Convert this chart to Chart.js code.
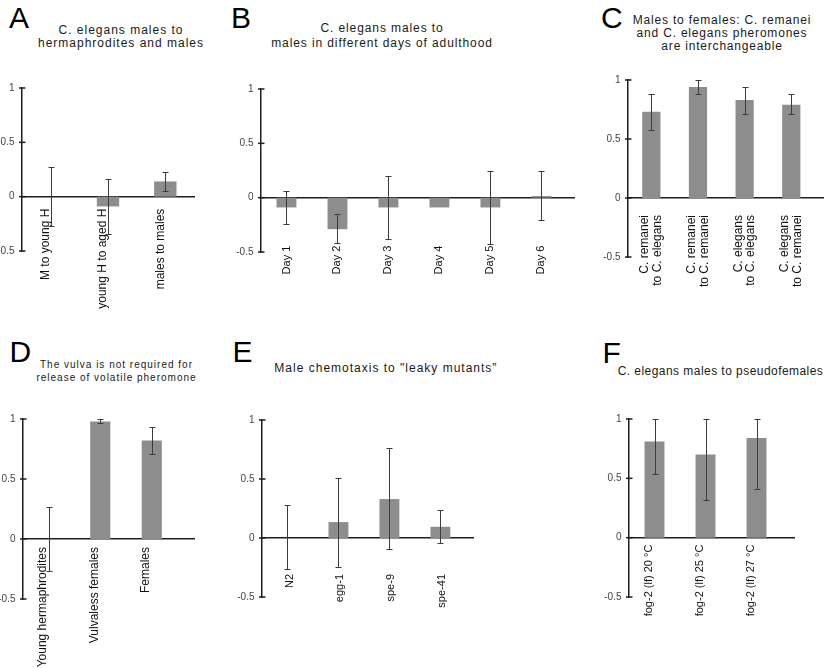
<!DOCTYPE html>
<html><head><meta charset="utf-8">
<script src="https://cdn.jsdelivr.net/npm/chart.js@4.4.1/dist/chart.umd.min.js"></script>
<style>
html,body{margin:0;padding:0;background:#fff;}
body{width:825px;height:668px;position:relative;overflow:hidden;font-family:"Liberation Sans",Arial,sans-serif;}
canvas{position:absolute;}
.t{position:absolute;width:400px;text-align:center;color:#1a1a1a;white-space:nowrap;}
.L{position:absolute;font-size:30px;line-height:30px;color:#000;}
</style></head><body>
<div class="L" style="left:9px;top:2.6px">A</div>
<div class="L" style="left:231px;top:2.6px">B</div>
<div class="L" style="left:601px;top:2.6px">C</div>
<div class="L" style="left:9.6px;top:336.6px">D</div>
<div class="L" style="left:232.6px;top:336.6px">E</div>
<div class="L" style="left:602.6px;top:337.6px">F</div>

<div class="t" style="left:-79px;top:24px;font-size:12px;line-height:13px;letter-spacing:1px">C. elegans males to<br>hermaphrodites and males</div>
<div class="t" style="left:182px;top:21.3px;font-size:12px;line-height:14.5px;letter-spacing:0.9px">C. elegans males to<br>males in different days of adulthood</div>
<div class="t" style="left:522px;top:14.3px;font-size:12px;line-height:13px;letter-spacing:0.8px">Males to females: C. remanei<br>and C. elegans pheromones<br>are interchangeable</div>
<div class="t" style="left:-83.5px;top:357.7px;font-size:10px;line-height:13px;letter-spacing:1px">The vulva is not required for<br>release of volatile pheromone</div>
<div class="t" style="left:186px;top:361.6px;font-size:12px;line-height:13px;letter-spacing:1px">Male chemotaxis to "leaky mutants"</div>
<div class="t" style="left:520.5px;top:365px;font-size:12px;line-height:13px;letter-spacing:0.45px">C. elegans males to pseudofemales</div>

<canvas id="cA"></canvas><canvas id="cB"></canvas><canvas id="cC"></canvas>
<canvas id="cD"></canvas><canvas id="cE"></canvas><canvas id="cF"></canvas>
<script>
// ---- data ----
const yTickValues = [-0.5, 0, 0.5, 1];

const catsA = ["M to young H", "young H to aged H", "males to males"];
const valsA = [0, -0.09, 0.14];
const lowA  = [-0.27, -0.34, 0.05];
const highA = [0.275, 0.165, 0.225];

const catsB = ["Day 1", "Day 2", "Day 3", "Day 4", "Day 5", "Day 6"];
const valsB = [-0.09, -0.29, -0.09, -0.09, -0.09, 0.015];
const lowB  = [-0.24, -0.42, -0.38, null, -0.43, -0.21];
const highB = [0.06, -0.15, 0.2, null, 0.25, 0.245];

const catsC = [["C. remanei", "to C. elegans"], ["C. remanei", "to C. remanei"], ["C. elegans", "to C. elegans"], ["C. elegans", "to C. remanei"]];
const valsC = [0.73, 0.94, 0.83, 0.79];
const lowC  = [0.58, 0.88, 0.715, 0.71];
const highC = [0.88, 1.0, 0.94, 0.88];

const catsD = ["Young hermaphrodites", "Vulvaless females", "Females"];
const valsD = [0, 0.98, 0.82];
const lowD  = [-0.27, 0.965, 0.71];
const highD = [0.27, 1.0, 0.93];

const catsE = ["N2", "egg-1", "spe-9", "spe-41"];
const valsE = [0, 0.135, 0.33, 0.095];
const lowE  = [-0.26, -0.245, -0.09, -0.04];
const highE = [0.28, 0.51, 0.765, 0.24];

const catsF = ["fog-2 (lf) 20 \u00B0C", "fog-2 (lf) 25 \u00B0C", "fog-2 (lf) 27 \u00B0C"];
const valsF = [0.81, 0.70, 0.84];
const lowF  = [0.54, 0.32, 0.41];
const highF = [1.0, 1.0, 1.0];

// ---- styles / layout ----
const FONT = '"Liberation Sans", Arial, sans-serif';
const BAR = '#8d8d8d';
const AXIS = '#1e1e1e';
const ERR = '#3c3c3c';

const errorBars = {
  id: 'errorBars',
  afterDatasetsDraw(chart) {
    const ds = chart.data.datasets[0];
    const meta = chart.getDatasetMeta(0);
    const ys = chart.scales.y;
    const ctx = chart.ctx;
    ctx.save();
    ctx.strokeStyle = ERR; ctx.lineWidth = 1;
    meta.data.forEach((bar, i) => {
      const lo = ds.errLow[i], hi = ds.errHigh[i];
      if (lo == null || hi == null) return;
      const x = Math.round(bar.x) + 0.5;
      const y1 = Math.round(ys.getPixelForValue(lo)) + 0.5;
      const y2 = Math.round(ys.getPixelForValue(hi)) + 0.5;
      ctx.beginPath();
      ctx.moveTo(x, y1); ctx.lineTo(x, y2);
      ctx.moveTo(x - 3, y1); ctx.lineTo(x + 3, y1);
      ctx.moveTo(x - 3, y2); ctx.lineTo(x + 3, y2);
      ctx.stroke();
    });
    ctx.restore();
  }
};
const yStubs = {
  id: 'yStubs',
  afterDraw(chart) {
    const ys = chart.scales.y;
    const x0 = chart.chartArea.left;
    const ctx = chart.ctx;
    ctx.save();
    ctx.strokeStyle = AXIS; ctx.lineWidth = 1.5;
    ys.ticks.forEach(t => {
      const py = ys.getPixelForValue(t.value);
      ctx.beginPath(); ctx.moveTo(x0 - 3, py); ctx.lineTo(x0 + 3.5, py); ctx.stroke();
    });
    ctx.restore();
  }
};

function makePanel(id, cats, vals, low, high, g) {
  const cv = document.getElementById(id);
  cv.width = g.cw; cv.height = g.ch;
  cv.style.left = g.cx + 'px'; cv.style.top = g.cy + 'px';
  cv.style.width = g.cw + 'px'; cv.style.height = g.ch + 'px';
  const yW = g.L - g.cx;
  return new Chart(cv, {
    type: 'bar',
    data: { labels: cats, datasets: [{ data: vals, backgroundColor: BAR, borderWidth: 0,
      categoryPercentage: 1, barPercentage: 0.39, errLow: low, errHigh: high }] },
    options: {
      responsive: false, animation: false, devicePixelRatio: 1,
      layout: { padding: { left: 0, top: g.T - g.cy, right: g.cx + g.cw - g.R, bottom: g.cy + g.ch - g.B } },
      plugins: { legend: { display: false }, tooltip: { enabled: false }, title: { display: false } },
      scales: {
        x: {
          type: 'category', position: { y: 0 }, offset: true, z: 1,
          grid: { display: true, drawOnChartArea: false, drawTicks: true, tickLength: g.gap, tickColor: 'rgba(0,0,0,0)' },
          border: { display: true, color: AXIS, width: 1.5 },
          ticks: { autoSkip: false, minRotation: 90, maxRotation: 90, padding: 0, labelOffset: g.labelOffset,
                   color: '#111', font: { family: FONT, size: g.labelSize, lineHeight: 1.05 } },
          afterBuildTicks: s => { s._valueRange += g.extra; }
        },
        y: {
          min: -0.5, max: 1, position: 'left',
          afterFit: s => { s.width = yW; },
          afterBuildTicks: s => { s.ticks = yTickValues.map(v => ({ value: v })); },
          grid: { display: false, drawTicks: false, tickLength: 0 },
          border: { display: true, color: AXIS, width: 1.5 },
          ticks: { padding: 7.5, color: '#444', font: { family: FONT, size: 10 }, callback: v => String(v) }
        }
      }
    },
    plugins: [errorBars, yStubs]
  });
}

makePanel('cA', catsA, valsA, lowA, highA, { cx: 0, cy: 60, cw: 236, ch: 270, L: 22, T: 88, R: 194, B: 251, extra: 0, gap: 12, labelSize: 12, labelOffset: -5 });
makePanel('cB', catsB, valsB, lowB, highB, { cx: 236, cy: 60, cw: 349, ch: 270, L: 261, T: 89, R: 574, B: 252, extra: 0.14, gap: 48, labelSize: 11, labelOffset: 0 });
makePanel('cC', catsC, valsC, lowC, highC, { cx: 585, cy: 55, cw: 240, ch: 275, L: 628, T: 80, R: 823, B: 257, extra: 0.18, gap: 17, labelSize: 12, labelOffset: -6.3 });
makePanel('cD', catsD, valsD, lowD, highD, { cx: 0, cy: 390, cw: 236, ch: 278, L: 23, T: 419, R: 194, B: 599, extra: 0.32, gap: 8, labelSize: 12, labelOffset: -6 });
makePanel('cE', catsE, valsE, lowE, highE, { cx: 236, cy: 390, cw: 349, ch: 278, L: 262, T: 420, R: 473, B: 597, extra: 0.14, gap: 36, labelSize: 11, labelOffset: 2 });
makePanel('cF', catsF, valsF, lowF, highF, { cx: 585, cy: 390, cw: 240, ch: 278, L: 629, T: 419, R: 794, B: 597, extra: 0.235, gap: 7, labelSize: 11, labelOffset: -6 });
</script>
</body></html>
